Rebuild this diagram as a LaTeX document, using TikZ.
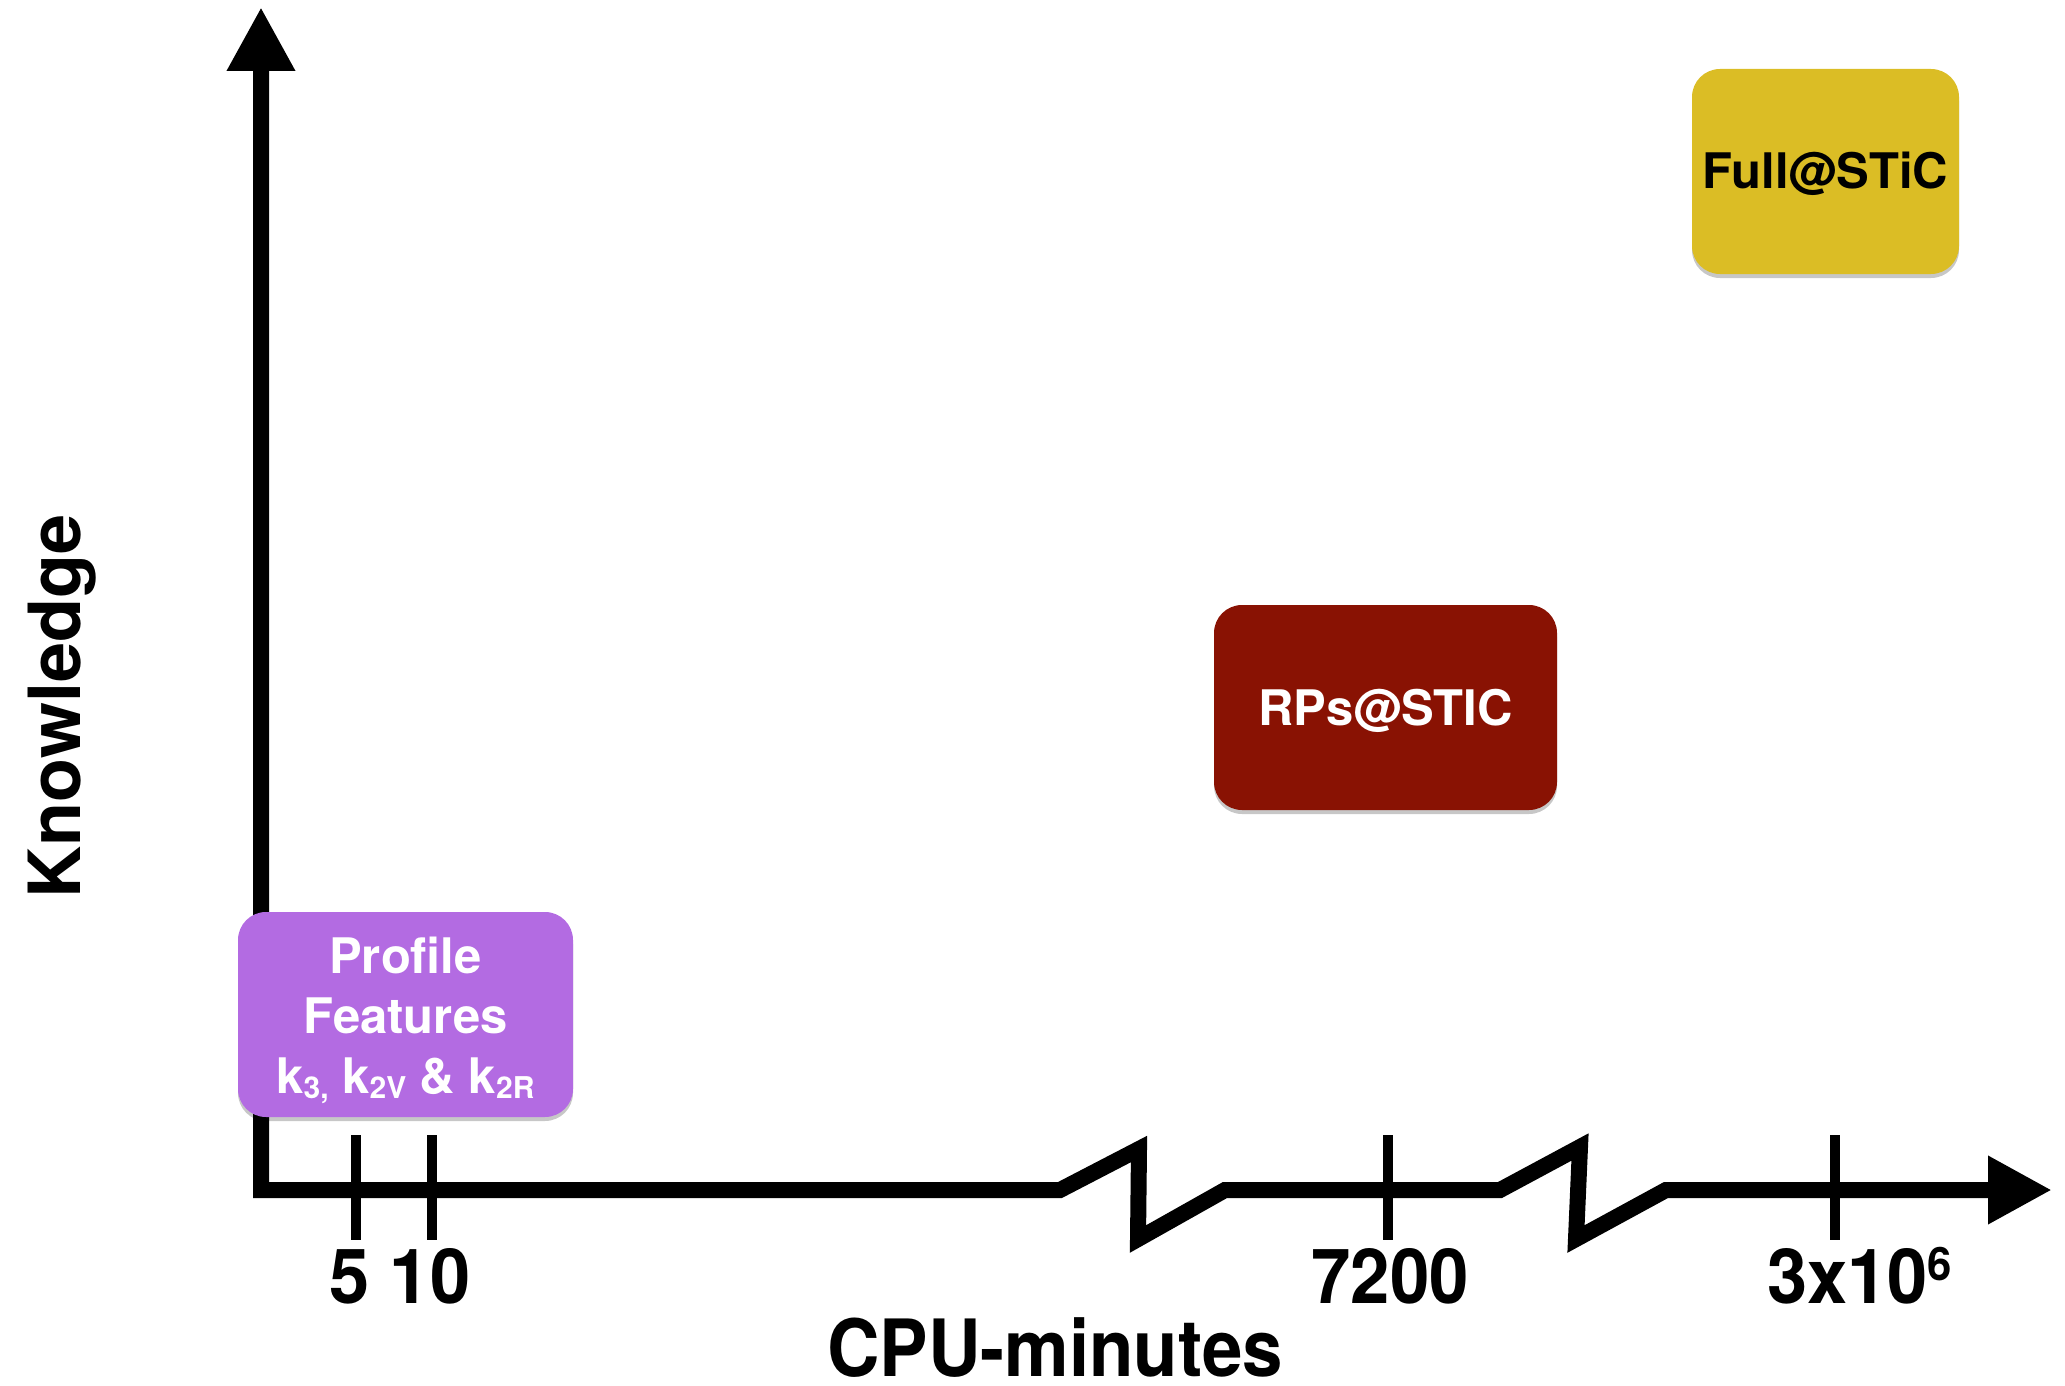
\documentclass[tikz,border=0pt]{standalone}
\usepackage{fontspec}
\setmainfont{TeX Gyre Heros}
\usetikzlibrary{shadows,arrows.meta}
\definecolor{pfpurple}{RGB}{179,107,226}
\definecolor{rpred}{RGB}{137,18,3}
\definecolor{fullgold}{RGB}{219,189,37}
\newcommand\lowsub[1]{\raisebox{-5pt}{\fontsize{30}{30}\selectfont #1}}
\tikzset{
  axisline/.style={line width=16pt, miter limit=20, line join=miter},
  tickmark/.style={line width=10pt},
  roundbox/.style={rectangle, rounded corners=28pt, inner sep=0pt, minimum height=205pt,
    drop shadow={shadow xshift=0pt, shadow yshift=-4pt, opacity=0.22, fill=black}},
  ticklbl/.style={font=\bfseries\fontsize{76}{76}\selectfont, anchor=base, inner sep=0pt},
  boxtext/.style={font=\bfseries\fontsize{49}{49}\selectfont, text height=35pt, text depth=0pt},
}
\begin{document}
\begin{tikzpicture}[x=1pt,y=-1pt]
\useasboundingbox (0,0) rectangle (2065,1386);

% axes
\coordinate (ytip) at (261,7);
\coordinate (origin) at (261,1190);
\coordinate (xtip) at (2052,1190);
\draw[axisline, {Triangle[length=64pt,width=64pt]}-{Triangle[length=64pt,width=64pt]}]
  (ytip) -- (origin) -- (1060,1190) -- (1139,1149) -- (1138,1239) -- (1225,1190)
  -- (1500,1190) -- (1580,1147) -- (1576,1239) -- (1666,1190) -- (xtip);

% ticks
\draw[tickmark] (356,1135) -- (356,1240);
\draw[tickmark] (432,1135) -- (432,1240);
\draw[tickmark] (1388,1135) -- (1388,1240);
\draw[tickmark] (1835,1135) -- (1835,1240);

% tick labels
\node[ticklbl] (l5) at (350,1303) {\scalebox{0.95}[1]{5}};
\node[ticklbl] (l10) at (430,1303) {\scalebox{0.95}[1]{10}};
\node[ticklbl] (l7200) at (1390,1303) {\scalebox{0.93}[1]{7200}};
\node[ticklbl, anchor=base west] (l3e6) at (1767,1303) {\scalebox{0.95}[1]{3x10\raisebox{23pt}{\fontsize{46}{46}\selectfont 6}}};

% axis titles
\node[font=\bfseries\fontsize{79}{79}\selectfont, anchor=base, inner sep=0pt] (xlab) at (1055,1376) {\scalebox{0.92}[1]{CPU-minutes}};
\node[font=\bfseries\fontsize{72}{72}\selectfont, rotate=90, anchor=base, inner sep=0pt] (ylab) at (80,706) {Knowledge};

% boxes
\node[roundbox, fill=pfpurple, minimum width=335pt] (pf) at (405.5,1014.5) {};
\node[text=white, align=center, font=\bfseries\fontsize{49}{60}\selectfont, inner sep=0pt] (pftext) at (405.5,1020) {Profile\\Features\\k\lowsub{3,} k\lowsub{2V} \& k\lowsub{2R}};

\node[roundbox, fill=rpred, minimum width=343pt, text=white, boxtext] (rp) at (1385.5,707.5) {RPs@STIC};
\node[roundbox, fill=fullgold, minimum width=267pt, text=black, boxtext] (full) at (1825.5,171.5) {Full@STiC};
\end{tikzpicture}
\end{document}
